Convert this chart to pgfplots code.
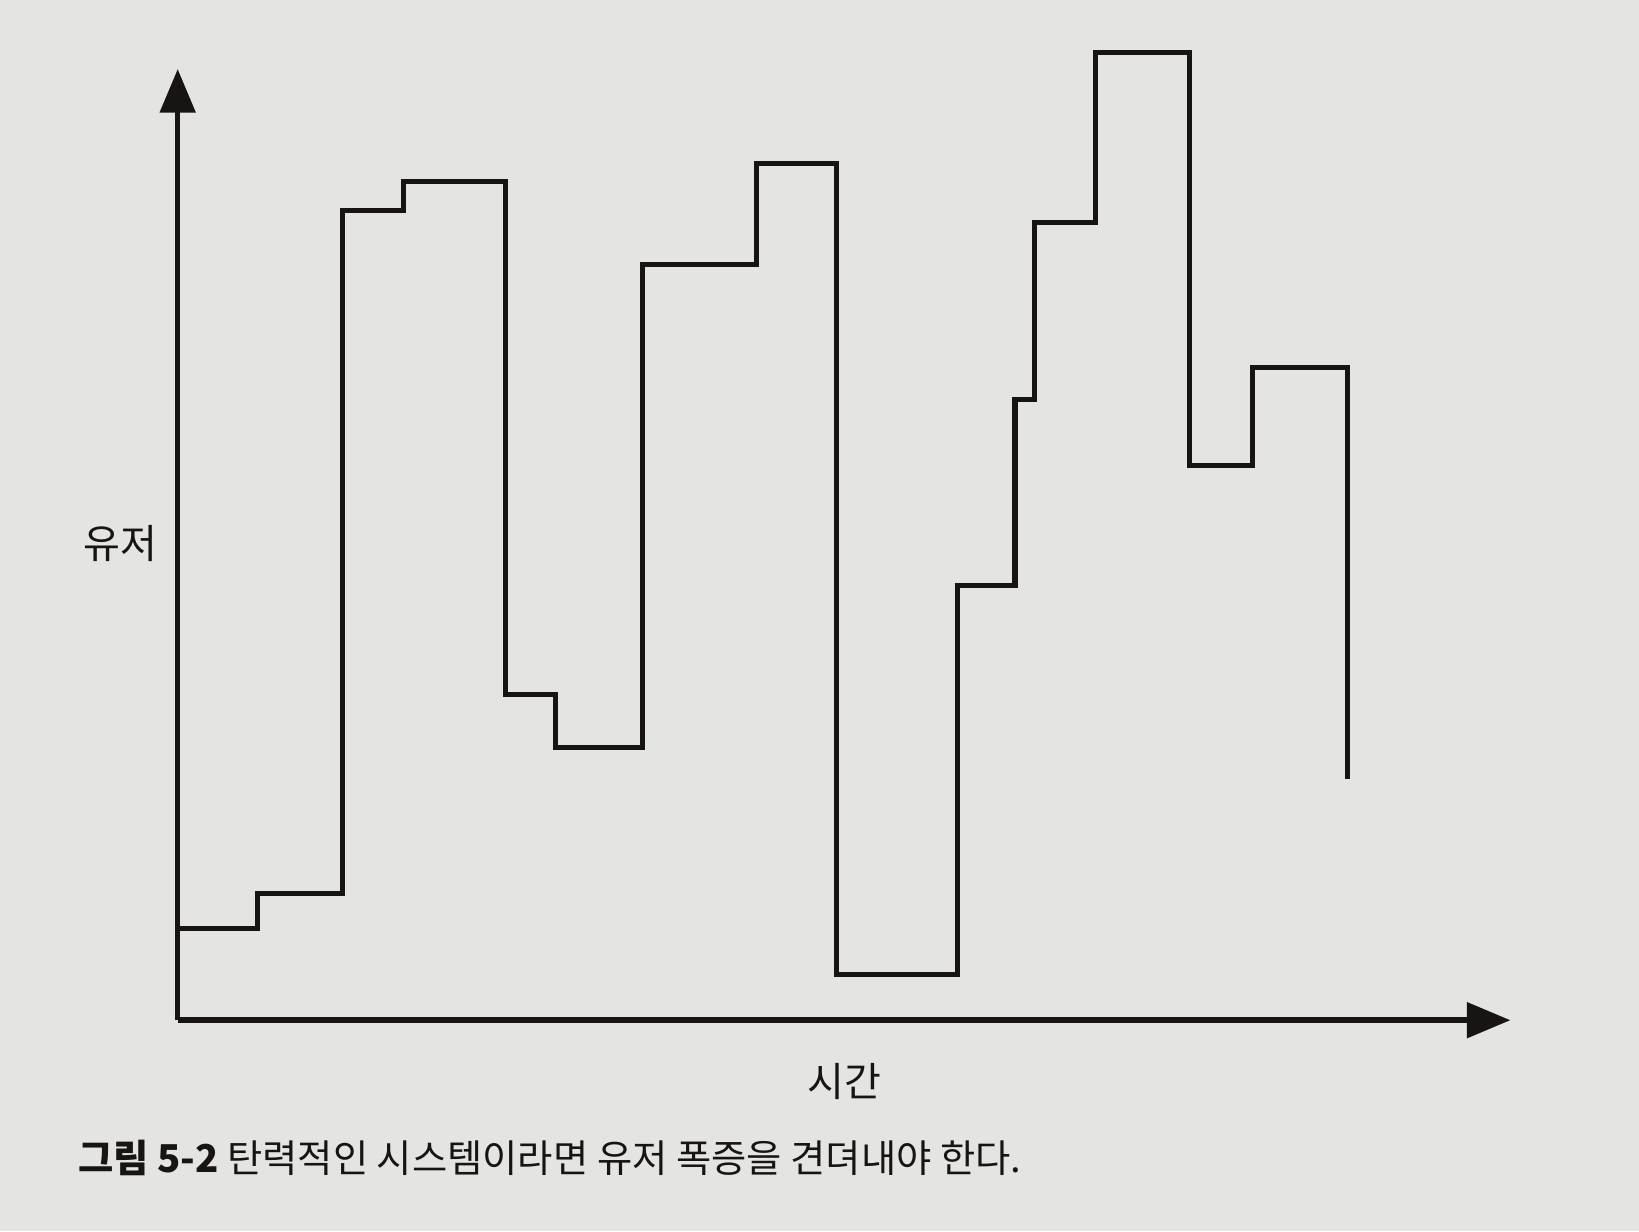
\documentclass[border=0pt]{standalone}
\usepackage{fontspec}
\setmainfont{Noto Sans CJK KR}
\usepackage{pgfplots}
\pgfplotsset{compat=1.18}
\usetikzlibrary{arrows.meta}
\definecolor{bg}{RGB}{228,228,226}
\definecolor{ink}{RGB}{24,20,20}
\begin{document}
\begin{tikzpicture}
\fill[bg] (-51pt,-60.6pt) rectangle (419.4pt,292.8pt);
\begin{axis}[
  scale only axis,
  width=382.5pt, height=273pt,
  xmin=0, xmax=1275, ymin=0, ymax=910,
  axis lines=left,
  axis line style={ink, line width=1.6pt, -{Triangle[length=12.5pt,width=10pt]}},
  ticks=none,
  clip=false,
]
\addplot[ink, line width=1.45pt, const plot mark left, line join=miter] coordinates {
(0,88) (76,121) (158,775) (216,802) (314,312) (361,261) (445,723) (554,820)
(630,44) (746,416) (801,594) (820,763) (878,926) (968,531) (1028,624) (1119,231)
};
\node[font=\fontsize{11.5pt}{13pt}\selectfont, text=ink] at (axis cs:-55,456) {유저};
\node[font=\fontsize{11.5pt}{13pt}\selectfont, text=ink] at (axis cs:638,-59) {시간};
\node[anchor=west, font=\fontsize{11pt}{13pt}\selectfont, text=ink, inner sep=0pt] at (axis cs:-96,-132) {\textbf{그림 5-2} 탄력적인 시스템이라면 유저 폭증을 견뎌내야 한다.};
\end{axis}
\pgfresetboundingbox
\path (-51pt,-60.6pt) rectangle (419.4pt,292.8pt);
\end{tikzpicture}
\end{document}
